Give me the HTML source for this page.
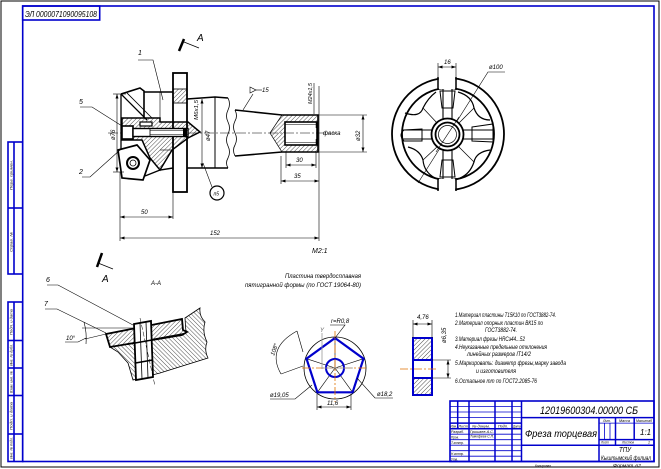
<!DOCTYPE html>
<html><head><meta charset="utf-8">
<style>
html,body{margin:0;padding:0;background:#fff;}
svg{display:block;}
text{font-family:"Liberation Sans","DejaVu Sans",sans-serif;font-style:italic;fill:#000;stroke:none;}
</style></head><body>
<svg width="661" height="469" viewBox="0 0 661 469" xmlns="http://www.w3.org/2000/svg">
<defs>
<pattern id="h" width="3" height="3" patternUnits="userSpaceOnUse" patternTransform="rotate(45)">
<line x1="0" y1="0" x2="0" y2="3" stroke="#000" stroke-width="0.7"/></pattern>
<pattern id="g" width="3" height="3" patternUnits="userSpaceOnUse" patternTransform="rotate(-45)">
<line x1="0" y1="0" x2="0" y2="3" stroke="#000" stroke-width="0.7"/></pattern>
<marker id="ar" viewBox="0 0 6 4" refX="6" refY="2" markerWidth="5" markerHeight="3" orient="auto-start-reverse" markerUnits="userSpaceOnUse"><path d="M0,0 L6,2 L0,4z" fill="#000"/></marker>
</defs>

<!-- outer border -->
<rect x="1" y="1" width="658" height="466" fill="none" stroke="#000" stroke-width="1"/>
<!-- blue frame -->
<g fill="none" stroke="#0000cc" stroke-width="1.6">
<rect x="22.7" y="6" width="631.3" height="455.5"/>
<rect x="22.7" y="6" width="77" height="14"/>
<rect x="8" y="142" width="14.7" height="132"/>
<line x1="8" y1="208" x2="22.7" y2="208"/>
<line x1="14" y1="142" x2="14" y2="274"/>
<rect x="8" y="302" width="14.7" height="159.5"/>
<line x1="8" y1="340.5" x2="22.7" y2="340.5"/>
<line x1="8" y1="368" x2="22.7" y2="368"/>
<line x1="8" y1="395.5" x2="22.7" y2="395.5"/>
<line x1="8" y1="434" x2="22.7" y2="434"/>
<line x1="14" y1="302" x2="14" y2="461.5"/>
</g>
<text x="25" y="17" font-size="8" textLength="72" lengthAdjust="spacingAndGlyphs">ЭЛ 0000071090095108</text>
<g font-size="3.5">
<text transform="translate(12.5,190) rotate(-90)" textLength="30" lengthAdjust="spacingAndGlyphs">Перв. примен.</text>
<text transform="translate(12.5,252) rotate(-90)" textLength="20" lengthAdjust="spacingAndGlyphs">Справ. №</text>
<text transform="translate(12.5,335) rotate(-90)" textLength="26" lengthAdjust="spacingAndGlyphs">Подп. и дата</text>
<text transform="translate(12.5,366) rotate(-90)" textLength="22" lengthAdjust="spacingAndGlyphs">Инв. № дубл.</text>
<text transform="translate(12.5,393) rotate(-90)" textLength="22" lengthAdjust="spacingAndGlyphs">Взам. инв. №</text>
<text transform="translate(12.5,430) rotate(-90)" textLength="28" lengthAdjust="spacingAndGlyphs">Подп. и дата</text>
<text transform="translate(12.5,459) rotate(-90)" textLength="22" lengthAdjust="spacingAndGlyphs">Инв. № подл.</text>
</g>

<!-- ============ FRONT VIEW ============ -->
<g fill="none" stroke="#000">
<line x1="108" y1="133" x2="335" y2="133" stroke-width="0.5" stroke-dasharray="10 2 2 2"/>
<polyline points="187,99 215,97 228,98" stroke-width="1.6"/>
<polyline points="187,168 215,168 228,168" stroke-width="1.6"/>
<line x1="215" y1="97" x2="215" y2="168" stroke-width="1"/>
<path d="M228 98 q3 6 0 12 q-3 6 0 12 q3 6 0 12 q-3 6 0 12 q3 6 0 12 q-3 5 0 10" stroke-width="0.8"/>
<path d="M235 110 q3 6 0 11 q-3 6 0 12 q3 6 0 12 q-3 5 0 11" stroke-width="0.8"/>
<path d="M270,133 L282,115 L318,115 L318,122 L285,122 L285,145 L318,145 L318,152 L282,152 Z" fill="url(#h)" stroke-width="0.7"/>
<polyline points="235,110 282,115 318,115 318,152 282,152 235,156" stroke-width="1.6"/>
<rect x="285" y="122" width="32" height="23" stroke-width="1.6"/>
<line x1="285" y1="124.5" x2="316" y2="124.5" stroke-width="0.6"/>
<line x1="285" y1="142.5" x2="316" y2="142.5" stroke-width="0.6"/>
<line x1="317" y1="122" x2="317" y2="128" stroke-width="2.5"/>
<line x1="317" y1="139" x2="317" y2="145" stroke-width="2.5"/>
<rect x="173" y="73" width="14" height="119" fill="#fff" stroke-width="1.8"/>
<rect x="173.5" y="89" width="13" height="14" fill="url(#h)" stroke="none"/>
<line x1="173" y1="89" x2="187" y2="89" stroke-width="0.8"/>
<line x1="173" y1="103" x2="187" y2="103" stroke-width="0.8"/>
<polyline points="121,94 140,88 144,91 144,118" stroke-width="1.6"/>
<line x1="144" y1="92" x2="173" y2="92" stroke-width="1.6"/>
<line x1="121" y1="94" x2="147" y2="120" stroke-width="1.3"/>
<line x1="126" y1="92" x2="152" y2="118" stroke-width="0.8"/>
<line x1="121" y1="94" x2="121" y2="150" stroke-width="1.3"/>
<line x1="160" y1="92" x2="160" y2="118" stroke-width="0.6"/>
<path d="M122,118 L160,118 L160,122 L188,122 L200,132 L188,138 L172,150 L160,170 L150,158 L142,140 L122,140 Z" fill="url(#h)" stroke-width="1.5"/>
<rect x="122" y="126" width="11" height="13" fill="#fff" stroke-width="1.6"/>
<rect x="133" y="128.5" width="55" height="8" fill="#fff" stroke-width="1.4"/>
<line x1="150" y1="130.5" x2="188" y2="130.5" stroke-width="0.6"/>
<line x1="150" y1="134.5" x2="188" y2="134.5" stroke-width="0.6"/>
<line x1="150" y1="128.5" x2="150" y2="136.5" stroke-width="0.8"/>
<rect x="140" y="122" width="12" height="4" fill="#fff" stroke-width="1.2"/>
<rect x="183" y="129" width="4" height="7" fill="#000" stroke="none"/>
<polygon points="118,150 137,145 150,160 143,180 122,178" fill="#fff" stroke-width="1.7"/>
<circle cx="133" cy="163" r="6" stroke-width="2"/>
<circle cx="133" cy="163" r="3" stroke-width="0.8"/>
<polyline points="145,176 160,170 173,168" stroke-width="1.4"/>
<line x1="160" y1="150" x2="173" y2="150" stroke-width="0.6"/>
<g stroke-width="0.6">
<line x1="113" y1="94" x2="126" y2="94"/>
<line x1="113" y1="172" x2="124" y2="172"/>
<line x1="117" y1="94" x2="117" y2="172" marker-start="url(#ar)" marker-end="url(#ar)"/>
<line x1="202" y1="99" x2="202" y2="168" marker-start="url(#ar)" marker-end="url(#ar)"/>
<line x1="120" y1="172" x2="120" y2="241"/>
<line x1="173" y1="192" x2="173" y2="219"/>
<line x1="120" y1="217" x2="173" y2="217" marker-start="url(#ar)" marker-end="url(#ar)"/>
<line x1="120" y1="238" x2="319" y2="238" marker-start="url(#ar)" marker-end="url(#ar)"/>
<line x1="319" y1="86" x2="319" y2="241"/>
<line x1="314" y1="83" x2="314" y2="114"/>
<line x1="318" y1="115" x2="367" y2="115"/>
<line x1="318" y1="152" x2="367" y2="152"/>
<line x1="363" y1="115" x2="363" y2="152" marker-start="url(#ar)" marker-end="url(#ar)"/>
<line x1="286" y1="152" x2="286" y2="168"/>
<line x1="316" y1="152" x2="316" y2="168"/>
<line x1="286" y1="165" x2="316" y2="165" marker-start="url(#ar)" marker-end="url(#ar)"/>
<line x1="281" y1="156" x2="281" y2="184"/>
<line x1="281" y1="181" x2="319" y2="181" marker-start="url(#ar)" marker-end="url(#ar)"/>
<polyline points="138,60 153,60 163,100"/>
<polyline points="80,107 92,107 122,126"/>
<polyline points="82,177 90,177 120,150"/>
<line x1="212" y1="187" x2="203" y2="163"/>
<line x1="253" y1="94" x2="243" y2="110"/>
<polygon points="250,87 250,93 256,90"/>
<line x1="256" y1="90" x2="262" y2="90"/>
</g>
<circle cx="217" cy="193" r="7" stroke-width="1.2"/>
<line x1="179" y1="51" x2="184" y2="39" stroke-width="2.5"/>
<line x1="184" y1="42" x2="199" y2="48" stroke-width="0.7"/>
</g>
<g font-size="7">
<text x="138" y="55">1</text>
<text x="79" y="104">5</text>
<text x="79" y="174">2</text>
<text x="197" y="41" font-size="10" font-style="normal">А</text>
<text transform="translate(115,140) rotate(-90)" font-size="6">ø76</text>
<text transform="translate(210,141) rotate(-90)" font-size="6">ø47</text>
<text transform="translate(198,120) rotate(-90)" font-size="5.5" textLength="20" lengthAdjust="spacingAndGlyphs">М6х1,5</text>
<text transform="translate(312,104) rotate(-90)" font-size="5.5" textLength="21" lengthAdjust="spacingAndGlyphs">М24х1,5</text>
<text transform="translate(360,141) rotate(-90)" font-size="6">ø32</text>
<text x="141" y="214" font-size="6">50</text>
<text x="210" y="235" font-size="6">152</text>
<text x="296" y="162" font-size="6">30</text>
<text x="294" y="178" font-size="6">35</text>
<text x="323" y="135" font-size="6">фаска</text>
<text x="262" y="92" font-size="6">15</text>
<text x="213.5" y="195.5" font-size="5">п5</text>
<text x="312" y="253" font-size="7">М2:1</text>
</g>

<!-- ============ RIGHT VIEW ============ -->
<g fill="none" stroke="#000">
<circle cx="448" cy="134" r="56" stroke-width="1.8"/>
<circle cx="448" cy="134" r="46" stroke-width="1.8"/>
<rect x="438.8" y="76" width="16.4" height="13" fill="#fff" stroke="none"/>
<rect x="438.8" y="179" width="16.4" height="13" fill="#fff" stroke="none"/>
<line x1="438" y1="77" x2="438" y2="90" stroke-width="1.5"/>
<line x1="456" y1="77" x2="456" y2="90" stroke-width="1.5"/>
<line x1="438" y1="178" x2="438" y2="191" stroke-width="1.5"/>
<line x1="456" y1="178" x2="456" y2="191" stroke-width="1.5"/>
<g stroke-width="0.6">
<line x1="438" y1="63" x2="438" y2="77"/>
<line x1="456" y1="63" x2="456" y2="77"/>
<line x1="438" y1="67" x2="456" y2="67" marker-start="url(#ar)" marker-end="url(#ar)"/>
<polyline points="505,72 488,72 418,183"/>
</g>
<g stroke-width="1.1">
<line x1="443" y1="89" x2="443" y2="179"/>
<line x1="452" y1="89" x2="452" y2="179"/>
<line x1="402" y1="130" x2="494" y2="130"/>
<line x1="402" y1="139" x2="494" y2="139"/>
</g>
<g stroke-width="1" fill="none">
<polygon points="440,91 455,91 453,108 442,108" fill="none"/>
<polygon points="442,160 453,160 455,177 440,177" fill="none"/>
<polygon points="472,127 493,124 493,142 472,141" fill="none"/>
<path d="M422,129 L404,130 Q398,135 404,141 L422,141 Z" fill="none"/>
</g>
<g stroke-width="1.2">
<path d="M405,113 Q420,118 423,108 Q428,98 436,92"/>
<path d="M458,92 Q472,96 474,108 Q478,120 490,120"/>
<path d="M490,150 Q476,152 474,162 Q470,174 460,178"/>
<path d="M435,178 Q424,172 423,160 Q420,150 408,147"/>
<line x1="423" y1="108" x2="438" y2="124" stroke-width="0.7"/>
<line x1="474" y1="108" x2="458" y2="124" stroke-width="0.7"/>
<line x1="474" y1="162" x2="458" y2="146" stroke-width="0.7"/>
<line x1="423" y1="160" x2="438" y2="146" stroke-width="0.7"/>
</g>
<circle cx="447.5" cy="134.5" r="16" fill="#fff" stroke-width="1.8"/>
<circle cx="447.5" cy="134.5" r="12" stroke-width="1.8"/>
<circle cx="447.5" cy="134.5" r="9" stroke-width="0.7"/>
<line x1="436" y1="152" x2="459" y2="117" stroke-width="0.6"/>
</g>
<text x="444" y="64" font-size="6">16</text>
<text x="489" y="69" font-size="6">ø100</text>

<!-- ============ SECTION A-A ============ -->
<g fill="none" stroke="#000">
<line x1="97" y1="267" x2="102" y2="253" stroke-width="2.5"/>
<line x1="98" y1="263" x2="113" y2="269" stroke-width="0.7"/>
<path d="M110,347 L118,352 L128,363 L133,380 L160,373 L208,358 Q204,350 207,342 Q202,332 205,322 Q199,316 200,308 L185,318 L186,333 Z" fill="url(#g)" stroke-width="0.8"/>
<polygon points="106,334 182,319 183,330 187,332 182,335 110,347" fill="url(#h)" stroke-width="1.8"/>
<polygon points="134,324 151,321 153,377 136,380" fill="#fff" stroke-width="1.8"/>
<line x1="140" y1="323" x2="142" y2="379" stroke-width="0.8"/>
<line x1="146" y1="322" x2="148" y2="378" stroke-width="0.8"/>
<line x1="135" y1="343" x2="152" y2="340" stroke-width="1.5"/>
<line x1="135.5" y1="363" x2="152.5" y2="360" stroke-width="1.5"/>
<line x1="140" y1="318" x2="155" y2="386" stroke-width="0.5" stroke-dasharray="5 2"/>
<g stroke-width="0.6">
<polyline points="47,285 58,285 133,325"/>
<polyline points="45,309 57,309 106,333"/>
<line x1="82" y1="328" x2="133" y2="328"/>
<line x1="85" y1="339" x2="106" y2="334"/>
<path d="M84,322 Q87,333 86,344"/>
<polyline points="65,342 78,342 86,338"/>
</g>
</g>
<text x="102" y="282" font-size="10" font-style="normal">А</text>
<text x="151" y="285" font-size="6">А-А</text>
<text x="46" y="282" font-size="7">6</text>
<text x="44" y="306" font-size="7">7</text>
<text x="66" y="340" font-size="6">10°</text>

<!-- ============ PLATE ============ -->
<text x="285" y="278" font-size="6" textLength="76" lengthAdjust="spacingAndGlyphs">Пластина твердосплавная</text>
<text x="245" y="287" font-size="6" textLength="116" lengthAdjust="spacingAndGlyphs">пятигранной формы (по ГОСТ 19064-80)</text>
<g fill="none">
<circle cx="335" cy="368" r="31" stroke="#000" stroke-width="0.8"/>
<g stroke="#000" stroke-width="0.6">
<line x1="335" y1="368" x2="335" y2="338"/>
<line x1="335" y1="368" x2="363.5" y2="358.7"/>
<line x1="335" y1="368" x2="352.6" y2="392.3"/>
<line x1="335" y1="368" x2="317.4" y2="392.3"/>
<line x1="335" y1="368" x2="306.5" y2="358.7"/>
</g>
<polygon points="335,338 363.5,358.7 352.6,392.3 317.4,392.3 306.5,358.7" stroke="#0000cc" stroke-width="2.2"/>
<circle cx="335" cy="368" r="9" stroke="#0000cc" stroke-width="2"/>
<line x1="302" y1="368" x2="368" y2="368" stroke="#e07000" stroke-width="0.8" stroke-dasharray="8 2 2 2"/>
<line x1="335" y1="331" x2="335" y2="402" stroke="#e07000" stroke-width="0.8" stroke-dasharray="8 2 2 2"/>
<line x1="322" y1="369" x2="322" y2="333" stroke="#999" stroke-width="0.8"/>
<line x1="322" y1="368" x2="353" y2="368" stroke="#999" stroke-width="0.8"/>
<g stroke="#000" stroke-width="0.6">
<path d="M281,374 Q266,348 297,331"/>
<line x1="297" y1="331" x2="303" y2="352"/>
<line x1="281" y1="374" x2="303" y2="366"/>
<polyline points="330,325 345,325 335,338"/>
<polyline points="270,399 295,399 312,385"/>
<polyline points="393,398 375,398 357,378"/>
<line x1="317" y1="394" x2="317" y2="410"/>
<line x1="351" y1="394" x2="351" y2="410"/>
<line x1="317" y1="407" x2="351" y2="407" marker-start="url(#ar)" marker-end="url(#ar)"/>
</g>
</g>
<text x="320" y="332" font-size="6" style="fill:#666" font-style="normal">Y</text>
<text x="331" y="323" font-size="6">r=R0,8</text>
<text transform="translate(274,356) rotate(-70)" font-size="6">108°</text>
<text x="270" y="397" font-size="6">ø19,05</text>
<text x="377" y="396" font-size="6">ø18,2</text>
<text x="327" y="405" font-size="6">11,6</text>

<g fill="none">
<rect x="413" y="338" width="19" height="22" fill="url(#h)" stroke="none"/>
<rect x="413" y="378" width="19" height="17" fill="url(#h)" stroke="none"/>
<rect x="413" y="338" width="19" height="57" stroke="#0000cc" stroke-width="2"/>
<line x1="413" y1="360" x2="432" y2="360" stroke="#0000cc" stroke-width="2"/>
<line x1="413" y1="378" x2="432" y2="378" stroke="#0000cc" stroke-width="2"/>
<line x1="400" y1="369" x2="436" y2="369" stroke="#e07000" stroke-width="0.8" stroke-dasharray="8 2 2 2"/>
<g stroke="#000" stroke-width="0.6">
<line x1="413" y1="320" x2="413" y2="338"/>
<line x1="432" y1="320" x2="432" y2="338"/>
<line x1="413" y1="324" x2="432" y2="324" marker-start="url(#ar)" marker-end="url(#ar)"/>
<line x1="432" y1="360" x2="451" y2="360"/>
<line x1="432" y1="378" x2="451" y2="378"/>
<line x1="448" y1="360" x2="448" y2="378" marker-start="url(#ar)" marker-end="url(#ar)"/>
</g>
</g>
<text x="417" y="319" font-size="6">4,76</text>
<text transform="translate(446,343) rotate(-90)" font-size="6">ø6,35</text>

<g font-size="6">
<text x="455" y="317" textLength="101" lengthAdjust="spacingAndGlyphs">1.Материал пластины Т15К10 по ГОСТ3882-74.</text>
<text x="455" y="325" textLength="88" lengthAdjust="spacingAndGlyphs">2.Материал опорных пластин ВК15 по</text>
<text x="485" y="332" textLength="32" lengthAdjust="spacingAndGlyphs">ГОСТ3882-74.</text>
<text x="455" y="341" textLength="70" lengthAdjust="spacingAndGlyphs">3.Материал фрезы HRCэ44...52</text>
<text x="455" y="349" textLength="92" lengthAdjust="spacingAndGlyphs">4.Неуказанные предельные отклонения</text>
<text x="467" y="356" textLength="64" lengthAdjust="spacingAndGlyphs">линейных размеров IT14/2</text>
<text x="455" y="365" textLength="111" lengthAdjust="spacingAndGlyphs">5.Маркировать: диаметр фрезы,марку завода</text>
<text x="476" y="373" textLength="40" lengthAdjust="spacingAndGlyphs">и изготовителя</text>
<text x="455" y="383" textLength="82" lengthAdjust="spacingAndGlyphs">6.Остальное тт по ГОСТ2.2085-76</text>
</g>

<!-- ============ TITLE BLOCK ============ -->
<g fill="none" stroke="#0000cc">
<rect x="450" y="401" width="204" height="60.5" stroke-width="1.6"/>
<g stroke-width="0.8">
<line x1="450" y1="406.5" x2="521.5" y2="406.5"/>
<line x1="450" y1="412" x2="521.5" y2="412"/>
<line x1="450" y1="417.6" x2="521.5" y2="417.6"/>
<line x1="450" y1="434.2" x2="521.5" y2="434.2"/>
<line x1="450" y1="439.7" x2="521.5" y2="439.7"/>
<line x1="450" y1="445.2" x2="521.5" y2="445.2"/>
<line x1="450" y1="450.7" x2="521.5" y2="450.7"/>
<line x1="450" y1="456.2" x2="521.5" y2="456.2"/>
<line x1="604.5" y1="423.1" x2="604.5" y2="439.6"/>
<line x1="610" y1="423.1" x2="610" y2="439.6"/>
<line x1="599" y1="423.1" x2="654" y2="423.1"/>
</g>
<g stroke-width="1.5">
<line x1="450" y1="423.1" x2="521.5" y2="423.1"/>
<line x1="450" y1="428.7" x2="521.5" y2="428.7"/>
<line x1="457.7" y1="401" x2="457.7" y2="428.7"/>
<line x1="469" y1="401" x2="469" y2="461.5"/>
<line x1="495" y1="401" x2="495" y2="461.5"/>
<line x1="512" y1="401" x2="512" y2="461.5"/>
<line x1="521.5" y1="401" x2="521.5" y2="461.5"/>
<line x1="521.5" y1="417.6" x2="654" y2="417.6"/>
<line x1="521.5" y1="445.2" x2="654" y2="445.2"/>
<line x1="599" y1="417.6" x2="599" y2="461.5"/>
<line x1="599" y1="439.6" x2="654" y2="439.6"/>
<line x1="615.5" y1="417.6" x2="615.5" y2="445.2"/>
<line x1="634.2" y1="417.6" x2="634.2" y2="439.6"/>
</g>
</g>
<g font-size="3.5">
<text x="450.5" y="427.3" textLength="6.5" lengthAdjust="spacingAndGlyphs">Изм.</text>
<text x="458.5" y="427.3" textLength="9.5" lengthAdjust="spacingAndGlyphs">Лист</text>
<text x="472" y="427.3" textLength="18" lengthAdjust="spacingAndGlyphs">№ докум.</text>
<text x="498" y="427.3" textLength="10" lengthAdjust="spacingAndGlyphs">Подп.</text>
<text x="513" y="427.3" textLength="7.5" lengthAdjust="spacingAndGlyphs">Дата</text>
<text x="451" y="432.8" textLength="13" lengthAdjust="spacingAndGlyphs">Разраб.</text>
<text x="451" y="438.3" textLength="8" lengthAdjust="spacingAndGlyphs">Пров.</text>
<text x="451" y="443.8" textLength="13" lengthAdjust="spacingAndGlyphs">Т.контр.</text>
<text x="451" y="454.8" textLength="13" lengthAdjust="spacingAndGlyphs">Н.контр.</text>
<text x="451" y="460.3" textLength="7" lengthAdjust="spacingAndGlyphs">Утв.</text>
<text x="470" y="432.8" textLength="24" lengthAdjust="spacingAndGlyphs">Гришаев А.С.</text>
<text x="470" y="437.5" textLength="24" lengthAdjust="spacingAndGlyphs">Тимофеев С.П.</text>
<text x="603" y="421.8" textLength="8" lengthAdjust="spacingAndGlyphs">Лит.</text>
<text x="619" y="421.8" textLength="11" lengthAdjust="spacingAndGlyphs">Масса</text>
<text x="636" y="421.8" textLength="16" lengthAdjust="spacingAndGlyphs">Масштаб</text>
<text x="601" y="443.6" textLength="8" lengthAdjust="spacingAndGlyphs">Лист</text>
<text x="622" y="443.6" textLength="12" lengthAdjust="spacingAndGlyphs">Листов</text>
<text x="648" y="443.6">1</text>
</g>
<text x="540" y="414" font-size="11" textLength="98" lengthAdjust="spacingAndGlyphs">12019600304.00000 СБ</text>
<text x="525" y="437" font-size="10" textLength="72" lengthAdjust="spacingAndGlyphs">Фреза торцевая</text>
<text x="640" y="435" font-size="8">1:1</text>
<text x="619" y="452" font-size="7" textLength="12" lengthAdjust="spacingAndGlyphs">ТПУ</text>
<text x="601" y="460" font-size="6" textLength="50" lengthAdjust="spacingAndGlyphs">Кыштымский филиал</text>
<text x="535" y="467" font-size="4" textLength="16" lengthAdjust="spacingAndGlyphs">Копировал</text>
<text x="613" y="467" font-size="4.5" textLength="28" lengthAdjust="spacingAndGlyphs">Формат  А2</text>
</svg>
</body></html>
